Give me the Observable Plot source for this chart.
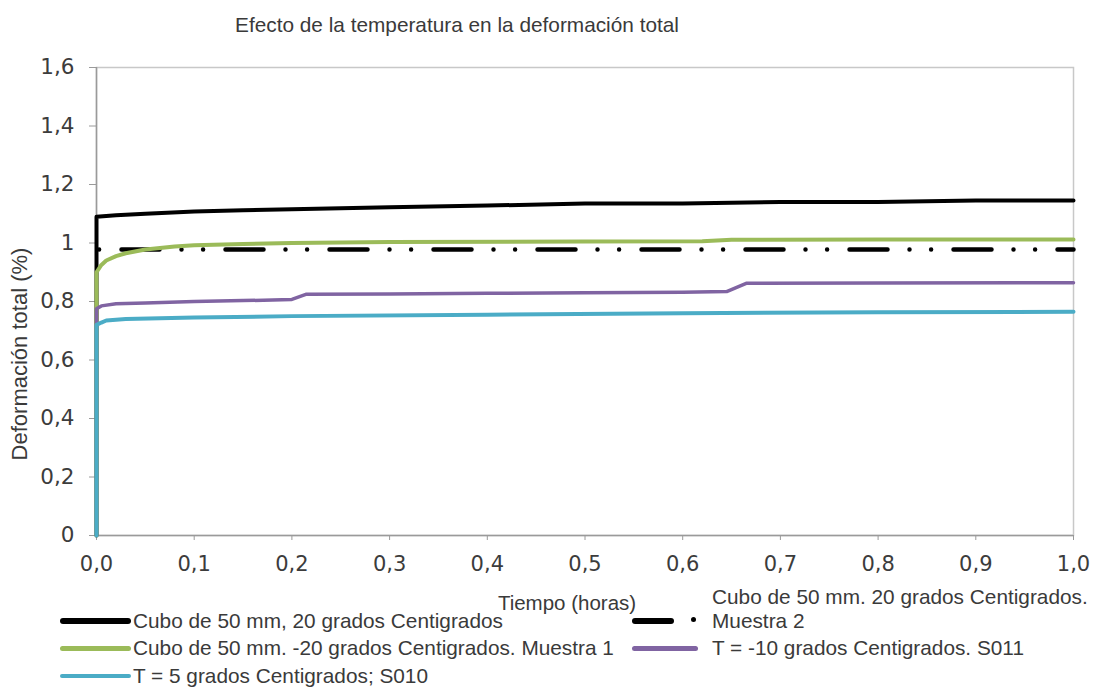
<!DOCTYPE html>
<html>
<head>
<meta charset="utf-8">
<script src="https://cdn.jsdelivr.net/npm/d3@7"></script>
<script src="https://cdn.jsdelivr.net/npm/@observablehq/plot@0.6"></script>
<style>
  html, body { margin: 0; padding: 0; background: #fff; }
  #chart { position: relative; width: 1093px; height: 695px; overflow: hidden; font-family: "Liberation Sans", Arial, sans-serif; color: #3a3a3a; }
  #chart svg { position: absolute; left: 0; top: 0; }
  .txt { position: absolute; white-space: nowrap; font-size: 20.8px; line-height: 1; }
  .title { left: 457px; top: 31px; transform: translate(-50%, -75%); font-size: 20.8px; }
  .ylab { left: 20px; top: 354px; transform: translate(-50%, -50%) rotate(-90deg); font-size: 22px; }
  .xlab { left: 567px; top: 603px; transform: translate(-50%, -50%); font-size: 20.5px; }
  .leg { transform: translateY(-50%); }
  .sw { position: absolute; }
  g[aria-label$="tick"] { stroke: #9a9a9a; }
  g[aria-label$="tick label"] { fill: #3c3c3c; }
</style>
</head>
<body>
<div id="chart"></div>
<script>
// Deformación total (%) frente al tiempo (horas) para cada ensayo
const series = [
  "Cubo de 50 mm, 20 grados Centigrados",
  "Cubo de 50 mm. 20 grados Centigrados. Muestra 2",
  "Cubo de 50 mm. -20 grados Centigrados. Muestra 1",
  "T = -10 grados Centigrados. S011",
  "T = 5 grados Centigrados; S010"
];
const colors = ["#000000", "#000000", "#9bbb59", "#8064a2", "#4bacc6"];

const tNegro = [0, 0, 0.02, 0.05, 0.1, 0.15, 0.2, 0.3, 0.4, 0.5, 0.6, 0.7, 0.8, 0.9, 1.0];
const vNegro = [0, 1.09, 1.095, 1.10, 1.108, 1.112, 1.115, 1.122, 1.128, 1.135, 1.135, 1.14, 1.14, 1.145, 1.145];

const tMuestra2 = [0, 0.25, 0.5, 0.75, 1.0];
const vMuestra2 = [0.978, 0.978, 0.978, 0.978, 0.978];

const tVerde = [0, 0, 0.005, 0.01, 0.02, 0.03, 0.05, 0.08, 0.1, 0.15, 0.2, 0.3, 0.5, 0.62, 0.65, 0.8, 1.0];
const vVerde = [0, 0.90, 0.925, 0.94, 0.955, 0.965, 0.978, 0.988, 0.992, 0.997, 1.0, 1.003, 1.005, 1.006, 1.011, 1.012, 1.012];

const tMorado = [0, 0, 0.005, 0.02, 0.05, 0.1, 0.15, 0.19, 0.2, 0.215, 0.3, 0.4, 0.5, 0.6, 0.645, 0.665, 0.8, 1.0];
const vMorado = [0, 0.775, 0.785, 0.792, 0.795, 0.80, 0.803, 0.806, 0.807, 0.825, 0.826, 0.828, 0.83, 0.832, 0.834, 0.862, 0.863, 0.864];

const tAzul = [0, 0, 0.005, 0.01, 0.03, 0.1, 0.2, 0.4, 0.6, 0.8, 1.0];
const vAzul = [0, 0.72, 0.728, 0.735, 0.74, 0.745, 0.75, 0.755, 0.76, 0.763, 0.765];

const yTicks = [0, 0.2, 0.4, 0.6, 0.8, 1.0, 1.2, 1.4, 1.6];
const xTicks = [0, 0.1, 0.2, 0.3, 0.4, 0.5, 0.6, 0.7, 0.8, 0.9, 1.0];

const toRows = (ts, vs) => ts.map((t, i) => ({t, v: vs[i]}));
const negro = toRows(tNegro, vNegro);
const muestra2 = toRows(tMuestra2, vMuestra2);
const verde = toRows(tVerde, vVerde);
const morado = toRows(tMorado, vMorado);
const azul = toRows(tAzul, vAzul);

const coma = s => s.replace(".", ",");

const plot = Plot.plot({
  width: 1093,
  height: 575,
  marginTop: 67,
  marginBottom: 40,
  marginLeft: 96,
  marginRight: 20,
  style: {fontFamily: "DejaVu Sans, Verdana, sans-serif", fontSize: "21px", background: "transparent"},
  x: {domain: [0, 1], axis: null},
  y: {domain: [0, 1.6], axis: null},
  marks: [
    Plot.frame({stroke: "#c8c8c8", strokeWidth: 1.5}),
    Plot.axisY({ticks: yTicks, tickFormat: d => coma(String(+d.toFixed(1))), tickSize: 7, tickPadding: 15, fontSize: 21.5, label: null}),
    Plot.axisX({ticks: xTicks, tickFormat: d => coma(d.toFixed(1)), tickSize: 5, tickPadding: 16, fontSize: 21, label: null}),
    Plot.ruleX([0], {stroke: "#9a9a9a", strokeWidth: 1.5}),
    Plot.ruleY([0], {stroke: "#9a9a9a", strokeWidth: 1.5}),
    Plot.line(muestra2, {x: "t", y: "v", stroke: colors[1], strokeWidth: 4.5,
      strokeDasharray: "38,22,0,21.6,0,22.4", strokeDashoffset: 79, strokeLinecap: "round"}),
    Plot.line(negro, {x: "t", y: "v", stroke: colors[0], strokeWidth: 4}),
    Plot.line(verde, {x: "t", y: "v", stroke: colors[2], strokeWidth: 4}),
    Plot.line(morado, {x: "t", y: "v", stroke: colors[3], strokeWidth: 3.5}),
    Plot.line(azul, {x: "t", y: "v", stroke: colors[4], strokeWidth: 4})
  ]
});

const chart = document.getElementById("chart");
chart.appendChild(plot);

function addText(cls, text, style) {
  const d = document.createElement("div");
  d.className = "txt " + cls;
  d.textContent = text;
  if (style) Object.assign(d.style, style);
  chart.appendChild(d);
  return d;
}
function addSwatch(x, y, w, h, color) {
  const s = document.createElement("div");
  s.className = "sw";
  Object.assign(s.style, {left: x + "px", top: (y - h / 2) + "px", width: w + "px", height: h + "px",
    background: color, borderRadius: (h / 2) + "px"});
  chart.appendChild(s);
}

addText("title", "Efecto de la temperatura en la deformación total");
addText("ylab", "Deformación total (%)");
addText("xlab", "Tiempo (horas)");

// Leyenda, columna izquierda
addSwatch(60, 621, 71, 6, colors[0]);
addText("leg", series[0], {left: "133px", top: "621px"});
addSwatch(60, 648, 71, 5, colors[2]);
addText("leg", series[2], {left: "133px", top: "648px"});
addSwatch(60, 676, 71, 4, colors[4]);
addText("leg", series[4], {left: "133px", top: "676px"});

// Leyenda, columna derecha
addText("leg", "Cubo de 50 mm. 20 grados Centigrados.", {left: "712px", top: "597px"});
addSwatch(632, 621, 42, 6, colors[1]);
addSwatch(691, 619, 5, 5, colors[1]);
addText("leg", "Muestra 2", {left: "712px", top: "621px"});
addSwatch(632, 648, 66, 5, colors[3]);
addText("leg", "T = -10 grados Centigrados. S011", {left: "712px", top: "648px"});
</script>
</body>
</html>
